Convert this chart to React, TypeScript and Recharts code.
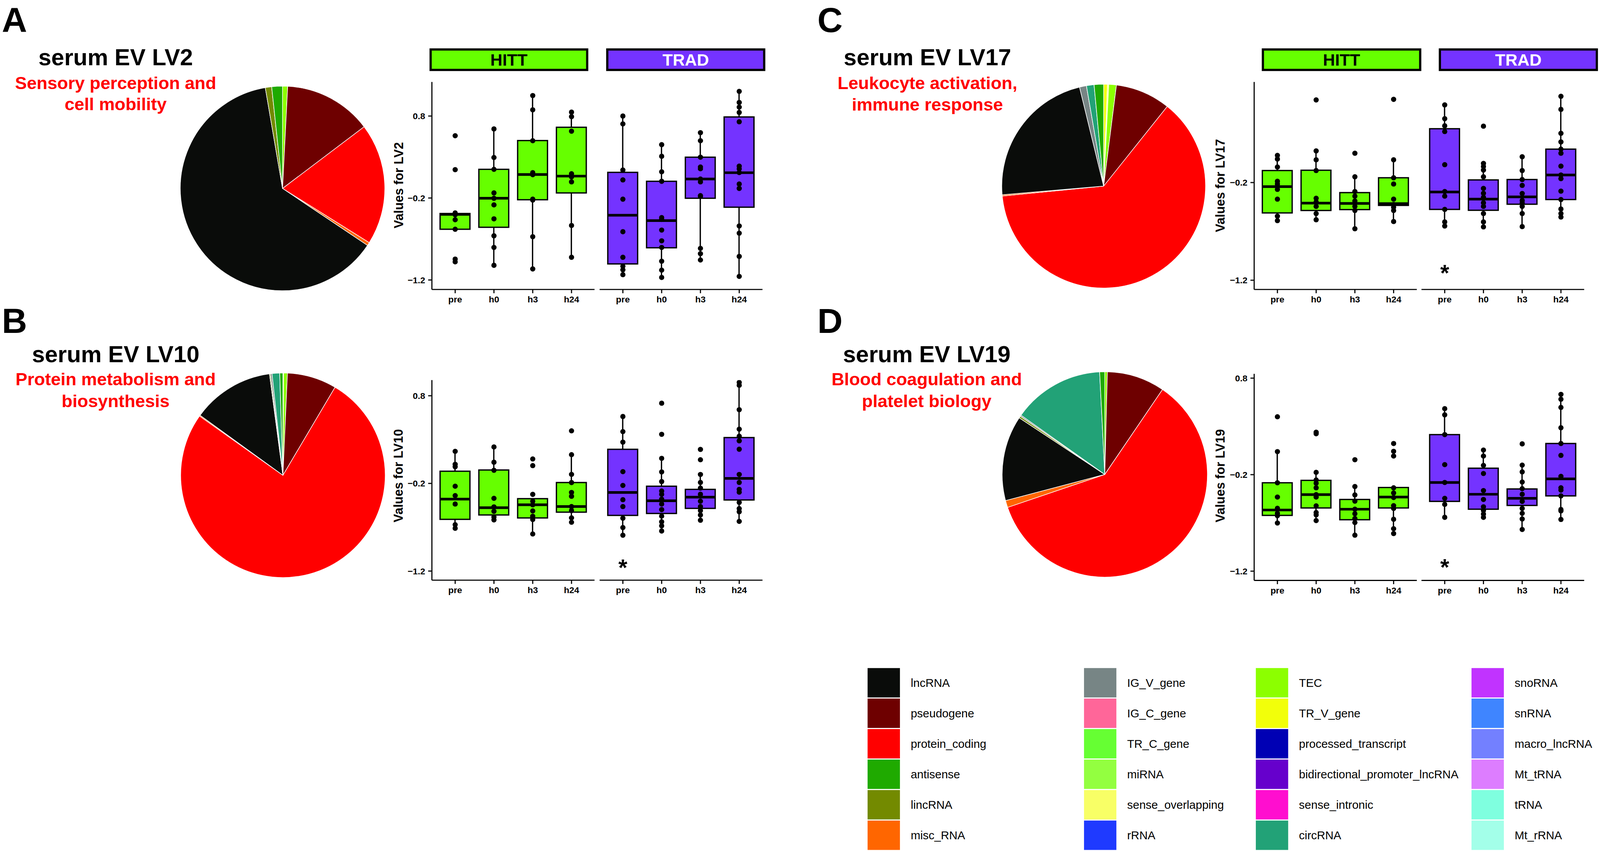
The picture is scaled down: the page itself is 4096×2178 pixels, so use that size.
import React from "react";
import { PieChart, Pie, Cell, ComposedChart, Bar, Scatter, XAxis, YAxis } from "recharts";

// reference is 4300 wide, window is 4096 -> everything drawn at 0.952
const S = 0.952;
const s = (v: number) => v * S;
const FONT = '"Liberation Sans", Arial, Helvetica, sans-serif';

const TIMEPOINTS = ["pre", "h0", "h3", "h24"];

const TYPE_COLORS: Record<string, string> = {
  lncRNA: "#0a0c0a",
  pseudogene: "#6e0000",
  protein_coding: "#ff0000",
  antisense: "#1faa00",
  lincRNA: "#738a00",
  misc_RNA: "#ff6600",
  IG_V_gene: "#778585",
  IG_C_gene: "#ff6699",
  TR_C_gene: "#66ff33",
  miRNA: "#93ff40",
  sense_overlapping: "#f8ff66",
  rRNA: "#1f3aff",
  TEC: "#8cff00",
  TR_V_gene: "#f2ff0a",
  processed_transcript: "#0000b4",
  bidirectional_promoter_lncRNA: "#6600cc",
  sense_intronic: "#ff0ecf",
  circRNA: "#22a277",
  snoRNA: "#c133ff",
  snRNA: "#3f85ff",
  macro_lncRNA: "#7380ff",
  Mt_tRNA: "#dd7dff",
  tRNA: "#7fffdf",
  Mt_rRNA: "#a3ffe9",
};

const LEGEND_COL1 = ["lncRNA", "pseudogene", "protein_coding", "antisense", "lincRNA", "misc_RNA"];
const LEGEND_COL2 = ["IG_V_gene", "IG_C_gene", "TR_C_gene", "miRNA", "sense_overlapping", "rRNA"];
const LEGEND_COL3 = ["TEC", "TR_V_gene", "processed_transcript", "bidirectional_promoter_lncRNA", "sense_intronic", "circRNA"];
const LEGEND_COL4 = ["snoRNA", "snRNA", "macro_lncRNA", "Mt_tRNA", "tRNA", "Mt_rRNA"];

// pie slices, clockwise from 12 o'clock (percent of genes)
const PIE_LV2_TYPES = ["TEC", "pseudogene", "protein_coding", "misc_RNA", "lncRNA", "lincRNA", "antisense"];
const PIE_LV2_PCT = [0.8, 13.9, 19.2, 0.5, 62.9, 1.0, 1.7];

const PIE_LV10_TYPES = ["TR_V_gene", "TEC", "pseudogene", "protein_coding", "misc_RNA", "lncRNA", "lincRNA", "IG_V_gene", "circRNA", "antisense"];
const PIE_LV10_PCT = [0.1, 0.6, 7.8, 76.2, 0.15, 12.9, 0.15, 0.25, 1.2, 0.5];

const PIE_LV17_TYPES = ["TR_V_gene", "sense_overlapping", "TEC", "pseudogene", "protein_coding", "misc_RNA", "lncRNA", "IG_V_gene", "circRNA", "antisense"];
const PIE_LV17_PCT = [0.6, 0.2, 1.2, 8.7, 62.6, 0.2, 22.5, 1.1, 1.2, 1.5];

const PIE_LV19_TYPES = ["TEC", "pseudogene", "protein_coding", "misc_RNA", "lncRNA", "lincRNA", "IG_V_gene", "circRNA", "antisense"];
const PIE_LV19_PCT = [0.4, 9.1, 60.3, 1.1, 13.4, 0.3, 0.2, 14.4, 0.8];

// box stats per timepoint: [whisker low, q1, median, q3, whisker high]
const LV2_HITT_STATS = [
  [-0.581, -0.581, -0.4, -0.389, -0.382],
  [-1.021, -0.557, -0.203, 0.15, 0.647],
  [-1.065, -0.221, 0.087, 0.501, 1.05],
  [-0.923, -0.138, 0.067, 0.663, 0.848],
];
const LV2_TRAD_STATS = [
  [-1.135, -1.004, -0.41, 0.113, 0.8],
  [-1.169, -0.807, -0.476, 0.004, 0.451],
  [-0.956, -0.203, 0.032, 0.298, 0.597],
  [-1.156, -0.312, 0.109, 0.789, 1.101],
];
const LV2_HITT_PTS = [
  [0.56, 0.146, -0.382, -0.404, -0.465, -0.581, -0.945, -0.978],
  [0.643, 0.294, 0.15, -0.138, -0.203, -0.284, -0.454, -0.661, -0.803, -1.021],
  [1.05, 0.876, 0.499, 0.109, 0.085, -0.214, -0.225, -0.672, -1.065],
  [0.848, 0.793, 0.615, 0.096, 0.058, -0.003, -0.535, -0.923],
];
const LV2_TRAD_PTS = [
  [0.8, 0.704, 0.141, 0.021, -0.214, -0.611, -0.923, -1.032, -1.076, -1.135],
  [0.451, 0.309, 0.12, 0.004, -0.439, -0.461, -0.591, -0.722, -0.803, -0.971, -1.08, -1.169],
  [0.597, 0.499, 0.298, 0.178, 0.157, 0.032, -0.003, -0.171, -0.181, -0.814, -0.879, -0.956],
  [1.101, 0.966, 0.909, 0.844, 0.73, 0.189, 0.157, 0.111, -0.029, -0.083, -0.541, -0.629, -0.912, -1.156],
];

const LV10_HITT_STATS = [
  [-0.712, -0.61, -0.379, -0.061, 0.166],
  [-0.62, -0.56, -0.477, -0.047, 0.216],
  [-0.777, -0.594, -0.444, -0.374, -0.374],
  [-0.643, -0.528, -0.464, -0.19, 0.128],
];
const LV10_TRAD_STATS = [
  [-0.791, -0.565, -0.303, 0.189, 0.563],
  [-0.743, -0.543, -0.398, -0.232, 0.086],
  [-0.62, -0.485, -0.357, -0.268, -0.098],
  [-0.633, -0.389, -0.143, 0.323, 0.952],
];
const LV10_HITT_PTS = [
  [0.166, 0.018, -0.01, -0.232, -0.339, -0.435, -0.671, -0.712],
  [0.216, 0.042, -0.05, -0.37, -0.468, -0.518, -0.583, -0.616],
  [0.079, 0.003, -0.325, -0.403, -0.444, -0.514, -0.575, -0.612, -0.777],
  [0.4, 0.128, -0.097, -0.19, -0.303, -0.347, -0.464, -0.51, -0.593, -0.643],
];
const LV10_TRAD_PTS = [
  [0.563, 0.391, 0.271, -0.066, -0.223, -0.386, -0.464, -0.597, -0.704, -0.791],
  [0.715, 0.36, 0.086, -0.069, -0.179, -0.287, -0.324, -0.379, -0.435, -0.499, -0.573, -0.638, -0.684, -0.743],
  [0.188, 0.07, -0.098, -0.189, -0.253, -0.324, -0.403, -0.464, -0.51, -0.56, -0.62],
  [0.952, 0.92, 0.641, 0.419, 0.338, 0.286, 0.19, -0.098, -0.189, -0.268, -0.3, -0.416, -0.487, -0.523, -0.633],
];

const LV17_HITT_STATS = [
  [-0.59, -0.511, -0.242, -0.077, 0.078],
  [-0.581, -0.486, -0.411, -0.074, 0.124],
  [-0.673, -0.477, -0.414, -0.303, -0.141],
  [-0.599, -0.434, -0.416, -0.151, 0.033],
];
const LV17_TRAD_STATS = [
  [-0.645, -0.475, -0.297, 0.351, 0.595],
  [-0.654, -0.484, -0.37, -0.173, -0.004],
  [-0.651, -0.422, -0.347, -0.169, 0.064],
  [-0.553, -0.374, -0.123, 0.142, 0.683],
];
const LV17_HITT_PTS = [
  [0.078, 0.041, -0.041, -0.187, -0.215, -0.27, -0.37, -0.544, -0.59],
  [0.646, 0.124, 0.033, -0.077, -0.361, -0.398, -0.444, -0.517, -0.581],
  [0.1, -0.141, -0.292, -0.339, -0.389, -0.444, -0.486, -0.673],
  [0.652, 0.033, -0.151, -0.215, -0.37, -0.425, -0.453, -0.486, -0.599],
];
const LV17_TRAD_PTS = [
  [0.595, 0.454, 0.381, 0.322, -0.017, -0.292, -0.339, -0.475, -0.603, -0.645],
  [0.377, -0.004, -0.035, -0.072, -0.141, -0.26, -0.31, -0.352, -0.407, -0.444, -0.517, -0.603, -0.654],
  [0.064, -0.077, -0.169, -0.229, -0.312, -0.383, -0.407, -0.444, -0.517, -0.651],
  [0.683, 0.549, 0.304, 0.216, 0.142, 0.1, -0.032, -0.123, -0.16, -0.288, -0.374, -0.471, -0.517, -0.553],
];

const LV19_HITT_STATS = [
  [-0.701, -0.622, -0.566, -0.284, 0.039],
  [-0.676, -0.545, -0.407, -0.259, -0.176],
  [-0.827, -0.667, -0.558, -0.457, -0.323],
  [-0.81, -0.545, -0.432, -0.333, -0.333],
];
const LV19_TRAD_STATS = [
  [-0.642, -0.477, -0.281, 0.215, 0.484],
  [-0.642, -0.558, -0.403, -0.133, 0.055],
  [-0.768, -0.519, -0.445, -0.348, -0.101],
  [-0.664, -0.42, -0.244, 0.123, 0.632],
];
const LV19_HITT_PTS = [
  [0.4, 0.039, -0.284, -0.432, -0.549, -0.6, -0.625, -0.701],
  [0.24, 0.224, -0.176, -0.255, -0.289, -0.336, -0.407, -0.432, -0.523, -0.592, -0.617, -0.676],
  [-0.045, -0.323, -0.41, -0.474, -0.558, -0.605, -0.655, -0.696, -0.827],
  [0.123, 0.042, -0.007, -0.336, -0.39, -0.437, -0.521, -0.55, -0.662, -0.76, -0.81],
];
const LV19_TRAD_PTS = [
  [0.484, 0.42, 0.215, -0.096, -0.281, -0.445, -0.508, -0.642],
  [0.055, -0.007, -0.104, -0.188, -0.365, -0.457, -0.533, -0.571, -0.608, -0.642],
  [0.119, -0.101, -0.171, -0.276, -0.345, -0.403, -0.477, -0.55, -0.6, -0.659, -0.768],
  [0.632, 0.582, 0.497, 0.286, 0.123, 0.0, -0.218, -0.336, -0.36, -0.42, -0.561, -0.575, -0.664],
];

// significance star (TRAD pre) y positions
const STAR_LV10 = -1.1;
const STAR_LV17 = -1.07;
const STAR_LV19 = -1.104;

const HITT_FILL = "#66ff00";
const TRAD_FILL = "#7433ff";

const fmtTick = (v: number) => v.toFixed(1).replace("-", "\u2212");

const BoxShape = (props: any) => {
  const { x, y, width, height, payload, boxFill } = props;
  if (x == null || !payload) return null;
  const [q1, q3] = payload.box;
  const top = Math.min(y, y + height);
  const h = Math.abs(height);
  const k = q3 > q1 ? h / (q3 - q1) : 0;
  const yOf = (v: number) => top + (q3 - v) * k;
  const cx = x + width / 2;
  const lw = s(3.5);
  return (
    <g>
      <line x1={cx} x2={cx} y1={yOf(payload.hi)} y2={top} stroke="#000" strokeWidth={lw} />
      <line x1={cx} x2={cx} y1={top + h} y2={yOf(payload.lo)} stroke="#000" strokeWidth={lw} />
      <rect x={x} y={top} width={width} height={h} fill={boxFill} stroke="#000" strokeWidth={lw} />
      <line x1={x} x2={x + width} y1={yOf(payload.med)} y2={yOf(payload.med)} stroke="#000" strokeWidth={s(7)} />
    </g>
  );
};

const DotShape = (props: any) => <circle cx={props.cx} cy={props.cy} r={s(7)} fill="#000" />;

const StarShape = (props: any) => (
  <text x={props.cx} y={props.cy + s(36)} textAnchor="middle" fontSize={s(62)} fontWeight={700} fontFamily={FONT} fill="#000">
    *
  </text>
);

interface FacetProps {
  stats: number[][];
  pts: number[][];
  star?: number;
  domain: [number, number];
  ticks: number[];
  plotLeft: number;
  plotTop: number;
  plotW: number;
  plotH: number;
  showY: boolean;
  fill: string;
}

function Facet({ stats, pts, star, domain, ticks, plotLeft, plotTop, plotW, plotH, showY, fill }: FacetProps) {
  const YW = s(90);
  const XH = s(60);
  const MT = s(6);
  const data = TIMEPOINTS.map((t, i) => ({
    t,
    box: [stats[i][1], stats[i][3]],
    lo: stats[i][0],
    med: stats[i][2],
    hi: stats[i][4],
  }));
  const dots = TIMEPOINTS.flatMap((t, i) => pts[i].map((v) => ({ t, v })));
  const stars = star == null ? [] : [{ t: "pre", v: star }];
  const w = s(plotW) + (showY ? YW : 0);
  const h = s(plotH) + XH + MT;
  const pad = s(plotW) / 42;
  const barSize = (s(plotW) / 4.2) * 0.77;
  const axisStyle = { stroke: "#000", strokeWidth: s(3) };
  return (
    <div style={{ position: "absolute", left: s(plotLeft) - (showY ? YW : 0), top: s(plotTop) - MT }}>
      <ComposedChart width={w} height={h} data={data} margin={{ top: MT, right: 0, bottom: 0, left: 0 }}>
        <XAxis
          dataKey="t"
          allowDuplicatedCategory={false}
          padding={{ left: pad, right: pad }}
          height={XH}
          axisLine={axisStyle}
          tickLine={axisStyle}
          tickSize={s(10)}
          tickMargin={s(8)}
          interval={0}
          tick={{ fill: "#000", fontSize: s(24), fontWeight: 700, fontFamily: FONT }}
        />
        <YAxis
          type="number"
          hide={!showY}
          width={YW}
          domain={domain}
          ticks={ticks}
          allowDataOverflow
          axisLine={axisStyle}
          tickLine={axisStyle}
          tickSize={s(10)}
          tickMargin={s(8)}
          tickFormatter={fmtTick}
          tick={{ fill: "#000", fontSize: s(24), fontWeight: 700, fontFamily: FONT }}
        />
        <Bar dataKey="box" barSize={barSize} isAnimationActive={false} shape={(p: any) => <BoxShape {...p} boxFill={fill} />} />
        <Scatter data={dots} dataKey="v" isAnimationActive={false} shape={DotShape} />
        {stars.length > 0 && <Scatter data={stars} dataKey="v" isAnimationActive={false} shape={StarShape} />}
      </ComposedChart>
    </div>
  );
}

function PieBlock({ types, pct, cx, cy, r }: { types: string[]; pct: number[]; cx: number; cy: number; r: number }) {
  const data = types.map((name, i) => ({ name, value: pct[i] }));
  const size = s(2 * r + 20);
  return (
    <div style={{ position: "absolute", left: s(cx - r - 10), top: s(cy - r - 10) }}>
      <PieChart width={size} height={size} margin={{ top: 0, right: 0, bottom: 0, left: 0 }}>
        <Pie
          data={data}
          dataKey="value"
          nameKey="name"
          cx="50%"
          cy="50%"
          outerRadius={s(r)}
          startAngle={90}
          endAngle={-270}
          stroke="#ffffff"
          strokeWidth={1.5}
          isAnimationActive={false}
        >
          {data.map((d) => (
            <Cell key={d.name} fill={TYPE_COLORS[d.name]} />
          ))}
        </Pie>
      </PieChart>
    </div>
  );
}

function Strip({ x1, x2, label, fill, color }: { x1: number; x2: number; label: string; fill: string; color: string }) {
  const y1 = 130;
  const y2 = 191;
  return (
    <g>
      <rect x={s(x1 + 3)} y={s(y1 + 3)} width={s(x2 - x1 - 6)} height={s(y2 - y1 - 6)} fill={fill} stroke="#000" strokeWidth={s(6)} />
      <text x={s((x1 + x2) / 2)} y={s(176)} textAnchor="middle" fontSize={s(45)} fontWeight={700} fontFamily={FONT} fill={color}>
        {label}
      </text>
    </g>
  );
}

function Heading({ letter, lx, lb, title, cx, tb, subs, sb }: any) {
  return (
    <g fontFamily={FONT} fontWeight={700}>
      <text x={s(lx)} y={s(lb)} fontSize={s(94)} fill="#000">
        {letter}
      </text>
      <text x={s(cx)} y={s(tb)} fontSize={s(62.5)} fill="#000" textAnchor="middle">
        {title}
      </text>
      {subs.map((t: string, i: number) => (
        <text key={t} x={s(cx)} y={s(sb[i])} fontSize={s(47.5)} fill="#ff0000" textAnchor="middle">
          {t}
        </text>
      ))}
    </g>
  );
}

function YTitle({ x, y, text }: { x: number; y: number; text: string }) {
  return (
    <text
      x={s(x)}
      y={s(y)}
      transform={`rotate(-90 ${s(x)} ${s(y)})`}
      textAnchor="middle"
      dominantBaseline="central"
      fontSize={s(34)}
      fontWeight={700}
      fontFamily={FONT}
      fill="#000"
    >
      {text}
    </text>
  );
}

export default function App() {
  const legendCols = [LEGEND_COL1, LEGEND_COL2, LEGEND_COL3, LEGEND_COL4];
  const legendX = [2333, 2915, 3377, 3957];
  const T3 = [-1.2, -0.2, 0.8];
  const T2 = [-1.2, -0.2];
  return (
    <div style={{ position: "absolute", left: 0, top: 0, width: 4096, height: 2178, background: "#fff", overflow: "hidden" }}>
      <PieBlock types={PIE_LV2_TYPES} pct={PIE_LV2_PCT} cx={760} cy={507} r={275} />
      <PieBlock types={PIE_LV10_TYPES} pct={PIE_LV10_PCT} cx={761} cy={1278} r={275} />
      <PieBlock types={PIE_LV17_TYPES} pct={PIE_LV17_PCT} cx={2968} cy={500} r={274} />
      <PieBlock types={PIE_LV19_TYPES} pct={PIE_LV19_PCT} cx={2971} cy={1275} r={276} />

      {/* A: LV2 */}
      <Facet stats={LV2_HITT_STATS} pts={LV2_HITT_PTS} domain={[-1.316, 1.216]} ticks={T3} plotLeft={1161} plotTop={220} plotW={438} plotH={558} showY fill={HITT_FILL} />
      <Facet stats={LV2_TRAD_STATS} pts={LV2_TRAD_PTS} domain={[-1.316, 1.216]} ticks={T3} plotLeft={1612} plotTop={220} plotW={438} plotH={558} showY={false} fill={TRAD_FILL} />
      {/* B: LV10 */}
      <Facet stats={LV10_HITT_STATS} pts={LV10_HITT_PTS} domain={[-1.304, 0.979]} ticks={T3} plotLeft={1161} plotTop={1022} plotW={438} plotH={538} showY fill={HITT_FILL} />
      <Facet stats={LV10_TRAD_STATS} pts={LV10_TRAD_PTS} star={STAR_LV10} domain={[-1.304, 0.979]} ticks={T3} plotLeft={1612} plotTop={1022} plotW={438} plotH={538} showY={false} fill={TRAD_FILL} />
      {/* C: LV17 */}
      <Facet stats={LV17_HITT_STATS} pts={LV17_HITT_PTS} domain={[-1.295, 0.83]} ticks={T2} plotLeft={3372.5} plotTop={220} plotW={437.5} plotH={558} showY fill={HITT_FILL} />
      <Facet stats={LV17_TRAD_STATS} pts={LV17_TRAD_PTS} star={STAR_LV17} domain={[-1.295, 0.83]} ticks={T2} plotLeft={3823} plotTop={220} plotW={437.5} plotH={558} showY={false} fill={TRAD_FILL} />
      {/* D: LV19 */}
      <Facet stats={LV19_HITT_STATS} pts={LV19_HITT_PTS} domain={[-1.296, 0.845]} ticks={T3} plotLeft={3372.5} plotTop={1004.5} plotW={437.5} plotH={555.5} showY fill={HITT_FILL} />
      <Facet stats={LV19_TRAD_STATS} pts={LV19_TRAD_PTS} star={STAR_LV19} domain={[-1.296, 0.845]} ticks={T3} plotLeft={3823} plotTop={1004.5} plotW={437.5} plotH={555.5} showY={false} fill={TRAD_FILL} />

      <svg width={4096} height={2178} style={{ position: "absolute", left: 0, top: 0, pointerEvents: "none" }}>
        <Heading letter="A" lx={5} lb={86} title="serum EV LV2" cx={311} tb={175} subs={["Sensory perception and", "cell mobility"]} sb={[239, 296]} />
        <Heading letter="B" lx={5} lb={895} title="serum EV LV10" cx={311} tb={974} subs={["Protein metabolism and", "biosynthesis"]} sb={[1036, 1095]} />
        <Heading letter="C" lx={2198} lb={86} title="serum EV LV17" cx={2494} tb={175} subs={["Leukocyte activation,", "immune response"]} sb={[239, 297]} />
        <Heading letter="D" lx={2198} lb={895} title="serum EV LV19" cx={2492} tb={974} subs={["Blood coagulation and", "platelet biology"]} sb={[1036, 1095]} />

        <Strip x1={1155} x2={1582} label="HITT" fill={HITT_FILL} color="#000" />
        <Strip x1={1630} x2={2058} label="TRAD" fill={TRAD_FILL} color="#fff" />
        <Strip x1={3393} x2={3822} label="HITT" fill={HITT_FILL} color="#000" />
        <Strip x1={3869} x2={4297} label="TRAD" fill={TRAD_FILL} color="#fff" />

        <YTitle x={1072} y={498} text="Values for LV2" />
        <YTitle x={1071} y={1279} text="Values for LV10" />
        <YTitle x={3282} y={499} text="Values for LV17" />
        <YTitle x={3282} y={1279} text="Values for LV19" />

        {legendCols.map((col, ci) =>
          col.map((name, ri) => {
            const y = 1796 + ri * 82;
            return (
              <g key={name}>
                <rect x={s(legendX[ci])} y={s(y)} width={s(87)} height={s(79)} fill={TYPE_COLORS[name]} />
                <text x={s(legendX[ci] + 116)} y={s(y + 39.5 + 11)} fontSize={s(31)} fontFamily={FONT} fill="#000">
                  {name}
                </text>
              </g>
            );
          })
        )}
      </svg>
    </div>
  );
}
